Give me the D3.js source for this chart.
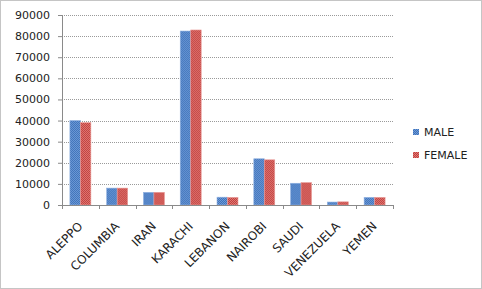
<!DOCTYPE html>
<html>
<head>
<meta charset="utf-8">
<script src="https://cdn.jsdelivr.net/npm/d3@7"></script>
<style>
  body { margin: 0; background: #fff; }
  text { font-family: "DejaVu Sans", sans-serif; fill: #222; }
</style>
</head>
<body>
<div id="wrapper"></div>
<script>
// data
const cities = ["ALEPPO", "COLUMBIA", "IRAN", "KARACHI", "LEBANON", "NAIROBI", "SAUDI", "VENEZUELA", "YEMEN"]
const maleValues = [40000, 8000, 6000, 82400, 3700, 21900, 10300, 1400, 3600]
const femaleValues = [39000, 8000, 6000, 82900, 3600, 21400, 10600, 1500, 3600]
const seriesNames = ["MALE", "FEMALE"]
const yTicks = [0, 10000, 20000, 30000, 40000, 50000, 60000, 70000, 80000, 90000]

const drawBarChart = () => {
  let dimensions = {
    width: 482,
    height: 289,
    margin: { top: 15, right: 89, bottom: 84, left: 62 },
  }
  dimensions.boundedWidth = dimensions.width - dimensions.margin.left - dimensions.margin.right
  dimensions.boundedHeight = dimensions.height - dimensions.margin.top - dimensions.margin.bottom

  const svg = d3.select("#wrapper")
    .append("svg")
      .attr("width", dimensions.width)
      .attr("height", dimensions.height)

  // dithered fills, like the old office export
  const defs = svg.append("defs")
  const makePattern = (id, dark, light) => {
    const p = defs.append("pattern")
      .attr("id", id)
      .attr("width", 2).attr("height", 2)
      .attr("patternUnits", "userSpaceOnUse")
    p.append("rect").attr("width", 2).attr("height", 2).attr("fill", dark)
    p.append("rect").attr("width", 1).attr("height", 1).attr("fill", light)
    p.append("rect").attr("x", 1).attr("y", 1).attr("width", 1).attr("height", 1).attr("fill", light)
  }
  makePattern("pat-male", "#3f72b8", "#6d9ad8")
  makePattern("pat-female", "#c0403d", "#e07874")
  const fills = ["url(#pat-male)", "url(#pat-female)"]
  const edges = ["#8fb0e0", "#e89a97"]

  // outer dotted frame
  svg.append("rect")
    .attr("x", 0.5).attr("y", 0.5)
    .attr("width", dimensions.width - 1).attr("height", dimensions.height - 1)
    .attr("fill", "none")
    .attr("stroke", "#8a8a8a")
    .attr("stroke-dasharray", "1,1")

  const bounds = svg.append("g")
    .attr("transform", `translate(${dimensions.margin.left},${dimensions.margin.top})`)

  const yScale = d3.scaleLinear()
    .domain([0, 90000])
    .range([dimensions.boundedHeight, 0])

  const xScale = d3.scaleBand()
    .domain(cities)
    .range([0, dimensions.boundedWidth])
    .paddingInner(0.43)
    .paddingOuter(0.215)

  const subScale = d3.scaleBand()
    .domain(seriesNames)
    .range([0, xScale.bandwidth()])

  // gridlines
  bounds.append("g")
    .selectAll("line")
    .data(yTicks.slice(1))
    .join("line")
      .attr("x1", 0)
      .attr("x2", dimensions.boundedWidth)
      .attr("y1", d => Math.round(yScale(d)) + 0.5)
      .attr("y2", d => Math.round(yScale(d)) + 0.5)
      .attr("stroke", "#9a9a9a")
      .attr("stroke-dasharray", "1,1")

  // bars
  const groups = bounds.append("g")
    .selectAll("g")
    .data(cities)
    .join("g")
      .attr("transform", d => `translate(${xScale(d)},0)`)

  groups.selectAll("rect")
    .data((d, i) => [maleValues[i], femaleValues[i]].map((v, j) => ({ name: seriesNames[j], value: v, j })))
    .join("rect")
      .attr("x", d => subScale(d.name))
      .attr("y", d => yScale(d.value))
      .attr("width", subScale.bandwidth())
      .attr("height", d => dimensions.boundedHeight - yScale(d.value))
      .attr("fill", d => fills[d.j])
      .attr("stroke", d => edges[d.j])
      .attr("stroke-width", 0.6)

  // y axis
  const yAxis = bounds.append("g")
    .call(d3.axisLeft(yScale).tickValues(yTicks).tickFormat(d3.format("d")).tickSize(4).tickPadding(8))
  yAxis.select(".domain").attr("stroke", "#8a8a8a")
  yAxis.selectAll(".tick line").attr("stroke", "#8a8a8a")
  yAxis.selectAll("text")
    .style("font-size", "11px")
    .style("font-family", "DejaVu Sans, sans-serif")
    .attr("fill", "#222")

  // x axis with ticks at category boundaries
  const xAxis = bounds.append("g")
    .attr("transform", `translate(0,${dimensions.boundedHeight})`)
  xAxis.append("line")
    .attr("x1", 0).attr("x2", dimensions.boundedWidth)
    .attr("y1", 0.5).attr("y2", 0.5)
    .attr("stroke", "#8a8a8a")
  const step = xScale.step()
  xAxis.selectAll(".xtick")
    .data(d3.range(cities.length + 1))
    .join("line")
      .attr("class", "xtick")
      .attr("x1", i => Math.round(i * step) + 0.5)
      .attr("x2", i => Math.round(i * step) + 0.5)
      .attr("y1", 0).attr("y2", 4)
      .attr("stroke", "#8a8a8a")

  xAxis.selectAll(".xlabel")
    .data(cities)
    .join("text")
      .attr("class", "xlabel")
      .attr("text-anchor", "end")
      .attr("transform", d => `translate(${xScale(d) + xScale.bandwidth() / 2 + 3},${22}) rotate(-45)`)
      .style("font-size", "12px")
      .text(d => d)

  // legend
  const legend = svg.append("g")
    .attr("transform", "translate(413,129)")
  const items = legend.selectAll("g")
    .data(seriesNames)
    .join("g")
      .attr("transform", (d, i) => `translate(0,${i * 23})`)
  items.append("rect")
    .attr("width", 6).attr("height", 6)
    .attr("fill", (d, i) => fills[i])
  items.append("text")
    .attr("x", 11)
    .attr("y", 3)
    .attr("dy", "0.36em")
    .style("font-size", "11px")
    .text(d => d)
}

drawBarChart()
</script>
</body>
</html>
